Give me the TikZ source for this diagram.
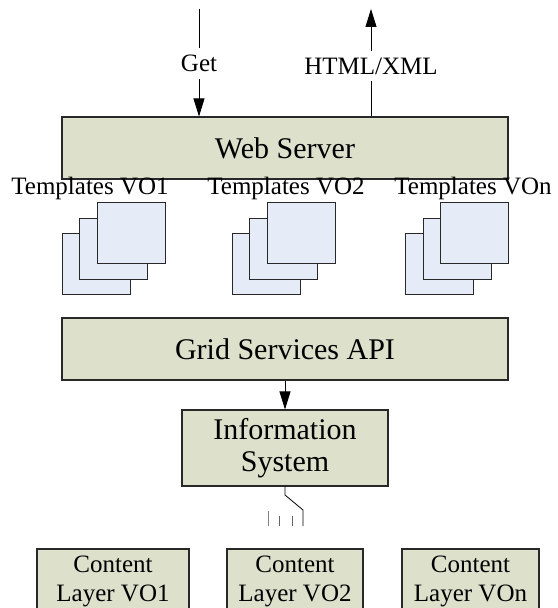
\documentclass[tikz,border=0pt]{standalone}
\usepackage{fontspec}
\setmainfont{Liberation Serif}
\usetikzlibrary{arrows.meta}
\definecolor{boxfill}{RGB}{221,224,203}
\definecolor{tplfill}{RGB}{230,236,247}
\definecolor{edgecol}{RGB}{40,40,40}
\tikzset{
  layerbox/.style={draw=edgecol, line width=1.1bp, fill=boxfill, inner sep=0pt, align=center,
    font=\fontsize{30bp}{32bp}\selectfont},
  contentbox/.style={draw=edgecol, line width=1.1bp, fill=boxfill, inner sep=0pt, align=center,
    minimum height=65bp, font=\fontsize{25bp}{29bp}\selectfont},
  tplsheet/.style={draw=edgecol, line width=1bp, fill=tplfill, minimum width=68bp,
    minimum height=61bp, inner sep=0pt},
  lbl/.style={font=\fontsize{25bp}{29bp}\selectfont, inner sep=0pt},
  gaplbl/.style={font=\fontsize{25bp}{29bp}\selectfont, fill=white, inner xsep=3bp, inner ysep=7bp},
  flow/.style={draw=black, line width=0.8bp, -{Triangle[width=11bp,length=18bp]}},
  wire/.style={draw=black, line width=0.8bp},
  tick/.style={draw=gray!80!black, line width=0.8bp},
}
\begin{document}
\begin{tikzpicture}[x=1bp, y=-1bp]
\useasboundingbox (0,0) rectangle (558,608);
\clip (0,0) rectangle (558,608);

% main layers
\node[layerbox, minimum width=446bp, minimum height=62bp] (web) at (285,148) {Web Server};
\node[layerbox, minimum width=446bp, minimum height=62bp] (grid) at (285,349) {Grid Services API};
\node[layerbox, minimum width=206bp, minimum height=76bp] (info) at (285,448) {Information\\System};

% top request/response
\coordinate (getsrc) at (199,9);
\coordinate (htmlout) at (371,9);
\draw[flow] (getsrc) -- node[gaplbl, pos=0.51] (getlbl) {Get} (getsrc |- web.north);
\draw[flow] (htmlout |- web.north) -- node[gaplbl, pos=0.47] (htmllbl) {HTML/XML} (htmlout);

% templates
\node[lbl, anchor=base] (tl1) at (90,194) {Templates VO1};
\node[lbl, anchor=base] (tl2) at (286,194) {Templates VO2};
\node[lbl, anchor=base] (tln) at (473,194) {Templates VOn};

\node[tplsheet] (t1a) at (96,264) {};
\node[tplsheet] (t1b) at (113.5,248.5) {};
\node[tplsheet] (t1c) at (131,233) {};

\node[tplsheet] (t2a) at (266,264) {};
\node[tplsheet] (t2b) at (283.5,248.5) {};
\node[tplsheet] (t2c) at (301,233) {};

\node[tplsheet] (tna) at (439.5,264) {};
\node[tplsheet] (tnb) at (457,248.5) {};
\node[tplsheet] (tnc) at (474.5,233) {};

% grid -> info
\draw[flow] (grid.south) -- (info.north);

% switch-like connector under information system
\coordinate (k1) at (285,495);
\coordinate (k2) at (303,510);
\coordinate (k3) at (303,526);
\draw[wire] (info.south) -- (k1) -- (k2) -- (k3);
\coordinate (p1) at (268,511); \coordinate (q1) at (268,526);
\coordinate (p2) at (279,516); \coordinate (q2) at (279,526);
\coordinate (p3) at (292,516); \coordinate (q3) at (292,526);
\draw[tick, draw=gray] (p1) -- (q1);
\draw[tick] (p2) -- (q2);
\draw[tick] (p3) -- (q3);

% content layers
\node[contentbox, minimum width=152bp] (c1) at (113,581.5) {Content\\Layer VO1};
\node[contentbox, minimum width=136bp] (c2) at (295,581.5) {Content\\Layer VO2};
\node[contentbox, minimum width=137bp] (cn) at (470.5,581.5) {Content\\Layer VOn};
\end{tikzpicture}
\end{document}
